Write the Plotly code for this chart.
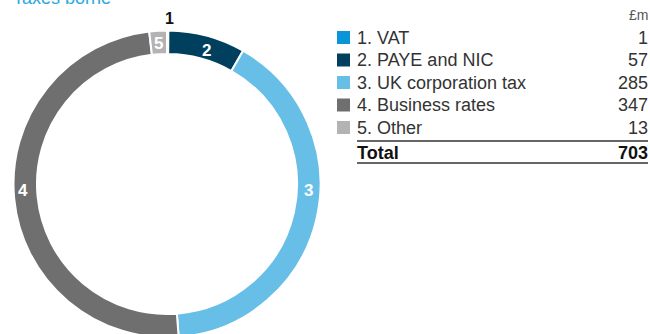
import plotly.graph_objects as go

# Taxes borne, £m
numbers = ["1", "2", "3", "4", "5"]
names = ["VAT", "PAYE and NIC", "UK corporation tax", "Business rates", "Other"]
values = [1, 57, 285, 347, 13]
colors = ["#0a96d6", "#00405e", "#67bfe7", "#6f6f6f", "#b3b3b3"]
total_label = "Total"
unit_label = "£m"
title_text = "Taxes borne"

W, H = 650, 340
FONT = "Liberation Sans"
TEXT = "#333333"


def py(p):
    """Pixel offset from the top -> paper y."""
    return 1 - p / H


def px(p):
    return p / W


fig = go.Figure()

fig.add_trace(go.Pie(
    values=values,
    labels=[f"{n}. {s}" for n, s in zip(numbers, names)],
    textinfo="none",
    marker=dict(colors=colors, line=dict(color="white", width=2)),
    hole=0.847,
    sort=False,
    direction="clockwise",
    rotation=0,
    showlegend=False,
    hoverinfo="label+value",
    domain=dict(x=[px(13.5), px(320.5)], y=[py(337.5), py(30.5)]),
))

annotations = []
shapes = []

# Segment numbers placed on (or just above) the ring
label_pos = [(169, 18), (206, 50), (308, 190), (23, 190), (158, 43)]
for i, (n, (lx, ly)) in enumerate(zip(numbers, label_pos)):
    outside = i == 0
    annotations.append(dict(
        x=px(lx), y=py(ly), xref="paper", yref="paper", xanchor="center", yanchor="middle",
        text=f"<b>{n}</b>", showarrow=False,
        font=dict(family=FONT, size=16 if outside else 17,
                  color="#111111" if outside else "white"),
    ))

# Title, running off the top edge of the frame
annotations.append(dict(
    x=px(11), y=py(-2), xref="paper", yref="paper", xanchor="left", yanchor="middle",
    text=title_text, showarrow=False,
    font=dict(family=FONT, size=18, color="#29a9e0"),
))

# Table header
annotations.append(dict(
    x=px(650), y=py(15), xref="paper", yref="paper", xanchor="right", yanchor="middle",
    text=unit_label, showarrow=False, font=dict(family=FONT, size=14, color="#555555"),
))

row0, pitch = 37.5, 22.5
for i, (n, s, v, c) in enumerate(zip(numbers, names, values, colors)):
    yc = row0 + pitch * i
    shapes.append(dict(
        type="rect", xref="paper", yref="paper",
        x0=px(337), x1=px(350), y0=py(yc + 6.5), y1=py(yc - 6.5),
        fillcolor=c, line=dict(width=0),
    ))
    annotations.append(dict(
        x=px(355), y=py(yc), xref="paper", yref="paper", xanchor="left", yanchor="middle",
        text=f"{n}. {s}", showarrow=False, font=dict(family=FONT, size=18, color=TEXT),
    ))
    annotations.append(dict(
        x=px(650), y=py(yc), xref="paper", yref="paper", xanchor="right", yanchor="middle",
        text=str(v), showarrow=False, font=dict(family=FONT, size=18, color=TEXT),
    ))

# Total row with rules above and below
for yl in (141, 163):
    shapes.append(dict(
        type="line", xref="paper", yref="paper",
        x0=px(357), x1=px(648), y0=py(yl), y1=py(yl),
        line=dict(color="#333333", width=1.5),
    ))
annotations.append(dict(
    x=px(355), y=py(152.5), xref="paper", yref="paper", xanchor="left", yanchor="middle",
    text=f"<b>{total_label}</b>", showarrow=False, font=dict(family=FONT, size=18, color="#111111"),
))
annotations.append(dict(
    x=px(650), y=py(152.5), xref="paper", yref="paper", xanchor="right", yanchor="middle",
    text=f"<b>{sum(values)}</b>", showarrow=False, font=dict(family=FONT, size=18, color="#111111"),
))

fig.update_layout(
    width=W, height=H,
    margin=dict(l=0, r=0, t=0, b=0),
    paper_bgcolor="white", plot_bgcolor="white",
    annotations=annotations, shapes=shapes,
)

# The ring runs past the bottom edge of the 334px frame; clip the page there.
clip_js = (
    "document.documentElement.style.overflow='hidden';"
    "document.body.style.overflow='hidden';"
    "document.body.style.margin='0';"
    "var el=document.getElementById('{plot_id}');"
    "if(el&&el.parentElement){el.parentElement.style.height='334px';"
    "el.parentElement.style.overflow='hidden';}"
)
fig.write_html("out.html", post_script=clip_js)
